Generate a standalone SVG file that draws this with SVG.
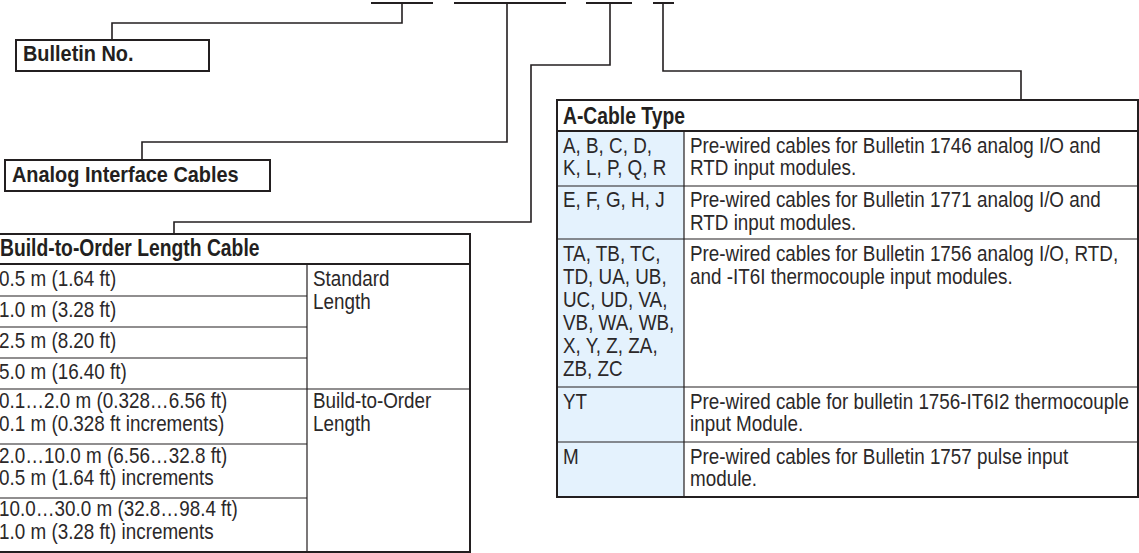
<svg xmlns="http://www.w3.org/2000/svg" width="1139" height="553" viewBox="0 0 1139 553">
<defs>
<style>
.bg{fill:#ffffff}
.ln{fill:none;stroke:#231f20;stroke-width:1.6;stroke-linecap:square}
.seg{fill:none;stroke:#231f20;stroke-width:2}
.box{fill:#ffffff;stroke:#231f20;stroke-width:2}
.tb{fill:none;stroke:#231f20;stroke-width:2}
.rl{fill:none;stroke:#231f20;stroke-width:1.2}
.hl{fill:none;stroke:#231f20;stroke-width:2}
.code{fill:#e4f2fd}
.lbl{font-family:"Liberation Sans",Arial,sans-serif;font-weight:bold;font-size:22px;fill:#231f20}
.hd{font-family:"Liberation Sans",Arial,sans-serif;font-weight:bold;font-size:23px;fill:#231f20}
.tx{font-family:"Liberation Sans",Arial,sans-serif;font-size:22.5px;fill:#2b2829}
</style>
</defs>
<rect class="bg" x="0" y="0" width="1139" height="553"/>

<g id="connectors">
<path class="seg" d="M371,3H433M454,3H566M586,3H632M653,3H674"/>
<path class="ln" d="M402,3V23H112V40"/>
<path class="ln" d="M507,3V142H142V160"/>
<path class="ln" d="M610,3V65H531V222H174V234"/>
<path class="ln" d="M663,3V71H1021V100"/>
</g>

<g id="bulletin-no">
<rect class="box" x="16" y="40" width="193" height="31"/>
<g transform="translate(23,0) scale(0.905,1)"><text class="lbl" x="0" y="61">Bulletin No.</text></g>
</g>

<g id="analog-interface-cables">
<rect class="box" x="5" y="160" width="265" height="31"/>
<g transform="translate(12,0) scale(0.905,1)"><text class="lbl" x="0" y="182">Analog Interface Cables</text></g>
</g>

<g id="build-to-order-length-cable">
<rect class="bg" x="-5" y="234" width="475" height="318"/>
<path class="hl" d="M-5,264H470"/>
<path class="rl" d="M307,264V552M-5,296H307M-5,327H307M-5,358H307M-5,389H470M-5,444H307M-5,498H307"/>
<rect class="tb" x="-5" y="234" width="475" height="318"/>
<g transform="translate(0,0) scale(0.84,1)"><text class="hd" x="0" y="256">Build-to-Order Length Cable</text></g>
<g transform="translate(-1,0) scale(0.838,1)">
<text class="tx" x="0" y="286.5">0.5 m (1.64 ft)</text>
<text class="tx" x="0" y="317.5">1.0 m (3.28 ft)</text>
<text class="tx" x="0" y="348.5">2.5 m (8.20 ft)</text>
<text class="tx" x="0" y="379.5">5.0 m (16.40 ft)</text>
<text class="tx" x="0" y="408.5">0.1…2.0 m (0.328…6.56 ft)</text>
<text class="tx" x="0" y="431">0.1 m (0.328 ft increments)</text>
<text class="tx" x="0" y="463">2.0…10.0 m (6.56…32.8 ft)</text>
<text class="tx" x="0" y="485.5">0.5 m (1.64 ft) increments</text>
<text class="tx" x="0" y="516.5">10.0…30.0 m (32.8…98.4 ft)</text>
<text class="tx" x="0" y="539">1.0 m (3.28 ft) increments</text>
</g>
<g transform="translate(313,0) scale(0.838,1)">
<text class="tx" x="0" y="286.5">Standard</text>
<text class="tx" x="0" y="309">Length</text>
<text class="tx" x="0" y="408.5">Build-to-Order</text>
<text class="tx" x="0" y="431">Length</text>
</g>
</g>

<g id="a-cable-type">
<rect class="bg" x="557" y="100" width="581" height="397"/>
<rect class="code" x="557" y="131" width="127" height="366"/>
<path class="hl" d="M557,131H1138"/>
<path class="rl" d="M684,131V497M557,186H1138M557,239H1138M557,387H1138M557,442H1138"/>
<rect class="tb" x="557" y="100" width="581" height="397"/>
<g transform="translate(563,0) scale(0.84,1)"><text class="hd" x="0" y="124">A-Cable Type</text></g>
<g transform="translate(563,0) scale(0.838,1)">
<text class="tx" x="0" y="153">A, B, C, D,</text>
<text class="tx" x="0" y="175.5">K, L, P, Q, R</text>
<text class="tx" x="0" y="207.5">E, F, G, H, J</text>
<text class="tx" x="0" y="261">TA, TB, TC,</text>
<text class="tx" x="0" y="284">TD, UA, UB,</text>
<text class="tx" x="0" y="307">UC, UD, VA,</text>
<text class="tx" x="0" y="330">VB, WA, WB,</text>
<text class="tx" x="0" y="353">X, Y, Z, ZA,</text>
<text class="tx" x="0" y="376">ZB, ZC</text>
<text class="tx" x="0" y="409">YT</text>
<text class="tx" x="0" y="464">M</text>
</g>
<g transform="translate(690,0) scale(0.838,1)">
<text class="tx" x="0" y="153">Pre-wired cables for Bulletin 1746 analog I/O and</text>
<text class="tx" x="0" y="175.5">RTD input modules.</text>
<text class="tx" x="0" y="207.5">Pre-wired cables for Bulletin 1771 analog I/O and</text>
<text class="tx" x="0" y="230">RTD input modules.</text>
<text class="tx" x="0" y="261">Pre-wired cables for Bulletin 1756 analog I/O, RTD,</text>
<text class="tx" x="0" y="284">and -IT6I thermocouple input modules.</text>
<text class="tx" x="0" y="409">Pre-wired cable for bulletin 1756-IT6I2 thermocouple</text>
<text class="tx" x="0" y="431.5">input Module.</text>
<text class="tx" x="0" y="464">Pre-wired cables for Bulletin 1757 pulse input</text>
<text class="tx" x="0" y="486.5">module.</text>
</g>
</g>
</svg>
